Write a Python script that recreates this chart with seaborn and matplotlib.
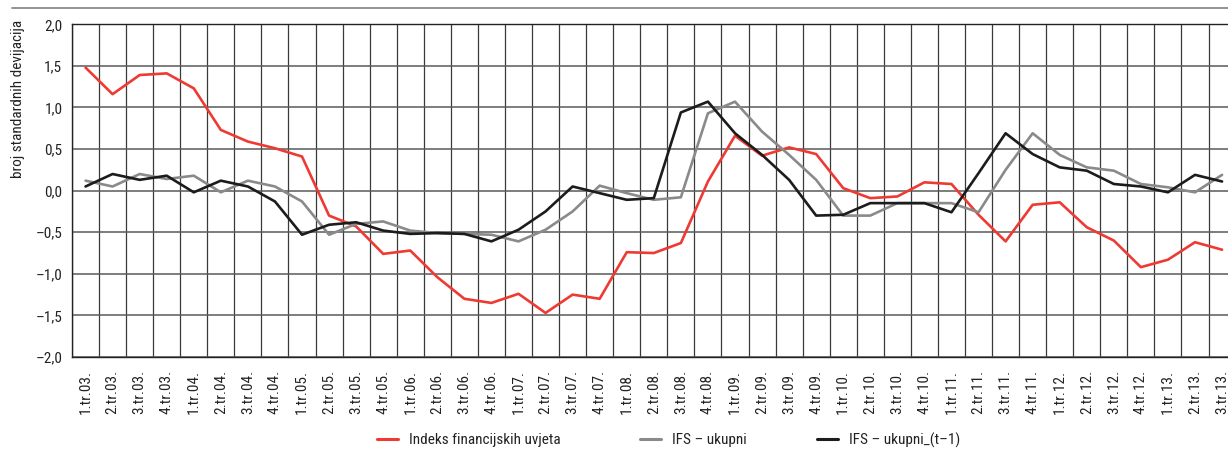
import numpy as np
import pandas as pd
import matplotlib
matplotlib.use("Agg")
import matplotlib.pyplot as plt
from matplotlib.lines import Line2D
import seaborn as sns

quarters = [f"{q}.tr.{y:02d}." for y in range(3, 14) for q in range(1, 5)][:43]

ifu = [1.48, 1.16, 1.39, 1.41, 1.23, 0.73, 0.59, 0.51, 0.41, -0.30,
       -0.43, -0.76, -0.72, -1.04, -1.30, -1.35, -1.24, -1.47, -1.25, -1.30,
       -0.74, -0.75, -0.63, 0.11, 0.66, 0.42, 0.52, 0.44, 0.03, -0.09,
       -0.07, 0.10, 0.08, -0.29, -0.61, -0.17, -0.14, -0.44, -0.60, -0.92,
       -0.83, -0.62, -0.71]

ifs = [0.12, 0.05, 0.20, 0.14, 0.18, -0.02, 0.12, 0.05, -0.13, -0.53,
       -0.40, -0.37, -0.48, -0.51, -0.52, -0.53, -0.61, -0.47, -0.25, 0.06,
       -0.03, -0.11, -0.08, 0.93, 1.07, 0.71, 0.43, 0.13, -0.30, -0.30,
       -0.15, -0.15, -0.15, -0.26, 0.25, 0.69, 0.43, 0.28, 0.24, 0.08,
       0.04, -0.02, 0.19]

ifs_lag = [0.05, 0.20, 0.13, 0.18, -0.02, 0.12, 0.05, -0.13, -0.53, -0.41,
           -0.38, -0.48, -0.52, -0.51, -0.52, -0.61, -0.47, -0.25, 0.05, -0.03,
           -0.11, -0.09, 0.94, 1.07, 0.69, 0.43, 0.13, -0.30, -0.29, -0.15,
           -0.15, -0.15, -0.26, 0.21, 0.69, 0.44, 0.28, 0.24, 0.08, 0.05,
           -0.02, 0.19, 0.11]

series_names = ["Indeks financijskih uvjeta", "IFS \u2013 ukupni", "IFS \u2013 ukupni_(t\u20131)"]
colors = ["#ee3a32", "#8a8a8a", "#1c1c1c"]

yticks = [2.0, 1.5, 1.0, 0.5, 0.0, -0.5, -1.0, -1.5, -2.0]

sns.set_theme(style="white")
plt.rcParams['font.family'] = ['Liberation Sans Narrow', 'Roboto Condensed', 'Liberation Sans', 'DejaVu Sans']

df = pd.DataFrame({
    "idx": list(range(len(quarters))) * 3,
    "value": ifu + ifs + ifs_lag,
    "series": [series_names[0]] * len(quarters) + [series_names[1]] * len(quarters) + [series_names[2]] * len(quarters),
})

FS = 11
W, H = 1228, 451
fig = plt.figure(figsize=(W / 100, H / 100), dpi=100)
left, right, top, bottom = 72, 1235.6, 24.3, 357
ax = fig.add_axes([left / W, 1 - bottom / H, (right - left) / W, (bottom - top) / H])

sns.lineplot(data=df, x="idx", y="value", hue="series", hue_order=series_names,
             palette=colors, linewidth=1.9, ax=ax, legend=False, sort=False, zorder=3)

ax.set_xlim(-0.5, len(quarters) - 0.5)
ax.set_ylim(-2.0, 2.0)
ax.set_yticks(yticks)
ax.set_yticklabels([f"{v:.1f}".replace(".", ",").replace("-", "\u2013") for v in yticks], fontsize=FS, color="#222")
ax.set_xticks(range(len(quarters)))
ax.set_xticklabels(quarters, rotation=90, fontsize=FS, color="#222", va="top", ha="center")
ax.set_xticks(np.arange(-0.5, len(quarters)), minor=True)
ax.tick_params(axis="both", which="both", length=0)
ax.tick_params(axis="x", pad=9)
ax.tick_params(axis="y", pad=7)
ax.grid(False)
ax.grid(True, which="minor", axis="x", color="#3a3a3a", linewidth=0.9)
ax.grid(True, which="major", axis="y", color="#5a5a5a", linewidth=1.1)
ax.set_axisbelow(True)
for s in ax.spines.values():
    s.set_color("#222")
    s.set_linewidth(1.0)
ax.set_xlabel("")
ax.set_ylabel("")

fig.text(18 / W, 1 - 20 / H, "broj standardnih devijacija", rotation=90, va="top", ha="center",
         fontsize=FS, color="#222")

fig.add_artist(Line2D([12 / W, 1.0], [1 - 8 / H, 1 - 8 / H], color="#8a8a8a", linewidth=1.3,
                      transform=fig.transFigure))

legend_x = [377, 640, 817]
for name, c, x in zip(series_names, colors, legend_x):
    h = Line2D([], [], color=c, linewidth=2.2)
    fig.legend(handles=[h], labels=[name], loc="center left", bbox_to_anchor=(x / W, 1 - 440 / H),
               frameon=False, fontsize=FS, handlelength=1.4, handletextpad=0.7,
               borderpad=0, borderaxespad=0, labelcolor="#222")

fig.savefig("out.png", dpi=100)
